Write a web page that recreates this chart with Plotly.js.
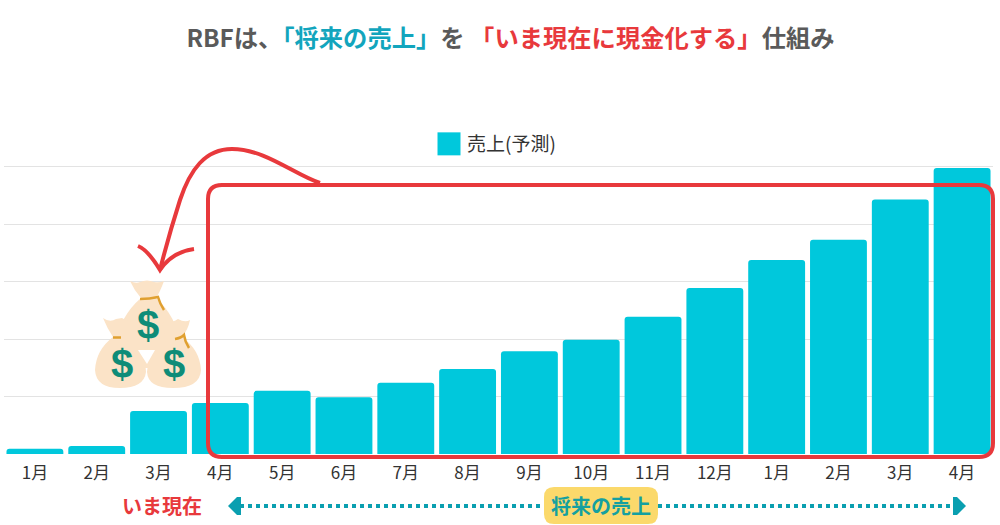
<!DOCTYPE html>
<html>
<head>
<meta charset="utf-8">
<script src="https://cdn.plot.ly/plotly-3.0.1.min.js"></script>
<style>html,body{margin:0;padding:0;background:#fff}</style>
</head>
<body>
<div id="chart" style="width:1000px;height:525px"></div>
<script>
var months = ['1月','2月','3月','4月','5月','6月','7月','8月','9月','10月','11月','12月','1月','2月','3月','4月'];
var sales = [9,14,75,89,110,99,124,148,179,199,239,289,338,373,443,498];
var seriesName = '売上(予測)';
var gridTicks = [0,100,200,300,400,500];

var L = 4, R = 993, T = 164, B = 454;
var FONT = '"Noto Sans CJK JP","Noto Sans",sans-serif';
var TEAL = '#00c8dc', RED = '#e8393c', DARK = '#5a5a5a', ARROW = '#0a9fb0';
var BAG = '#fbe3c7', GOLD = '#e0a030', DOLLAR = '#0e8c78';

function ax(x){ return (x - L) / (R - L); }
function ay(y){ return (B - y) / (B - T); }
function P(s){ return s.replace(/(-?[\d.]+),(-?[\d.]+)/g, function(_, x, y){ return (x - L) + ',' + (B - y); }); }
function shape(path, o){
  return Object.assign({type:'path', layer:'above', xref:'paper', yref:'paper', xsizemode:'pixel', ysizemode:'pixel',
    xanchor:0, yanchor:0, path:P(path), line:{width:0}}, o);
}
function note(text, x, y, size, color, bold, family){
  return {text: bold ? '<b>'+text+'</b>' : text, xref:'paper', yref:'paper', x:ax(x), y:ay(y), showarrow:false,
    xanchor:'center', yanchor:'middle', font:{family:family || FONT, size:size, color:color}};
}

var shapes = [
  // money bags
  shape('M 130,281 Q 136,284 140,282 Q 147,279 154,282 Q 160,283 164,281 Q 160,292 156,298 Q 176,316 181,345 L 172,368 L 122,368 L 115,345 Q 120,316 141,298 Q 134,290 130,281 Z', {fillcolor:BAG}),
  shape('M 103,318 Q 110,323 116,319 L 122,318 Q 128,322 134,322 L 130,335 L 122,337 Q 146,352 146,372 Q 144,388 120,388 Q 96,388 95,370 Q 96,350 113,337 Q 107,328 103,318 Z', {fillcolor:BAG}),
  shape('M 162,322 Q 172,323 178,319 Q 185,323 190,320 Q 188,330 182,337 Q 200,350 201,370 Q 200,388 173,388 Q 148,388 147,372 Q 148,352 172,337 L 165,335 Z', {fillcolor:BAG}),
  shape('M 138,350 L 155,350 L 147,364 Z', {fillcolor:'#ffffff'}),
  shape('M 140,299 Q 150,299 158,297 Q 160,304 164,310', {line:{color:GOLD, width:2.5}}),
  shape('M 113,337.5 L 121,337.5', {line:{color:GOLD, width:2.5}}),
  shape('M 175,339 Q 181,338 184,335 Q 185,342 189,348', {line:{color:GOLD, width:2.5}}),
  // red frame
  shape('M 222,185 L 979,185 Q 993,185 993,199 L 993,443 Q 993,457 979,457 L 222,457 Q 208,457 208,443 L 208,199 Q 208,185 222,185 Z', {line:{color:RED, width:4}}),
  // curved arrow
  shape('M 320,183 C 295,175 265,149 232,149 C 205,149 190,170 180,200 C 172,225 165,250 160,270', {line:{color:RED, width:4}}),
  shape('M 138,246 Q 148,250 160,270 Q 172,252 194,249', {line:{color:RED, width:4}}),
  // dotted span
  shape('M 240,506 L 544,506', {line:{color:ARROW, width:4, dash:'dot'}}),
  shape('M 658,506 L 952,506', {line:{color:ARROW, width:4, dash:'dot'}}),
  shape('M 228,506 L 237,497 L 241,497 L 241,515 L 237,515 Z', {fillcolor:ARROW}),
  shape('M 966,506 L 957,497 L 953,497 L 953,515 L 957,515 Z', {fillcolor:ARROW}),
  // yellow pill
  shape('M 554,487 L 648,487 Q 658,487 658,497 L 658,514 Q 658,524 648,524 L 554,524 Q 544,524 544,514 L 544,497 Q 544,487 554,487 Z', {fillcolor:'#fbd96b'})
];

var annotations = [
  note('$', 148, 325, 40, DOLLAR, true, '"Liberation Sans"'),
  note('$', 122, 364, 40, DOLLAR, true, '"Liberation Sans"'),
  note('$', 174, 364, 40, DOLLAR, true, '"Liberation Sans"'),
  note('いま現在', 162, 505, 20, RED, true),
  note('将来の売上', 601, 505, 20, '#14a0a0', true)
];

var title = '<b>RBFは、<span style="color:#12a5bd">「将来の売上」</span>を <span style="color:#e8393c">「いま現在に現金化する」</span>仕組み</b>';

Plotly.newPlot('chart', [{
  type:'bar', name:seriesName,
  x: months.map(function(_, i){ return i; }),
  y: sales,
  marker:{color:TEAL, cornerradius:3},
  showlegend:true,
  hoverinfo:'skip'
}], {
  width:1000, height:525, paper_bgcolor:'#fff', plot_bgcolor:'#fff',
  margin:{l:L, r:1000-R, t:T, b:525-B, pad:0},
  bargap:0.08,
  font:{family:FONT, color:'#333'},
  title:{text:title, x:0.5105, xanchor:'center', y:1-38/525, yanchor:'middle', font:{family:FONT, size:24.3, color:DARK}},
  showlegend:true,
  legend:{x:ax(427), xanchor:'left', y:ay(144), yanchor:'middle', orientation:'h', font:{family:FONT, size:19, color:'#333'}, bgcolor:'rgba(0,0,0,0)'},
  xaxis:{range:[-0.5,15.5], tickmode:'array', tickvals:months.map(function(_, i){ return i; }), ticktext:months,
    tickfont:{family:FONT, size:17, color:'#333'}, ticks:'outside', ticklen:4, tickcolor:'rgba(0,0,0,0)', showgrid:false, zeroline:false, showline:false, fixedrange:true},
  yaxis:{range:[0,505], tickmode:'array', tickvals:gridTicks, showticklabels:false, gridcolor:'#e3e3e3', gridwidth:1, zeroline:false, showline:false, fixedrange:true},
  shapes:shapes,
  annotations:annotations
}, {displayModeBar:false, staticPlot:true}).then(function(){
  document.querySelectorAll('.legendpoints path').forEach(function(p){ p.setAttribute('d','M13.5,11.5H-9.5V-11.5H13.5Z'); });
});
</script>
</body>
</html>
